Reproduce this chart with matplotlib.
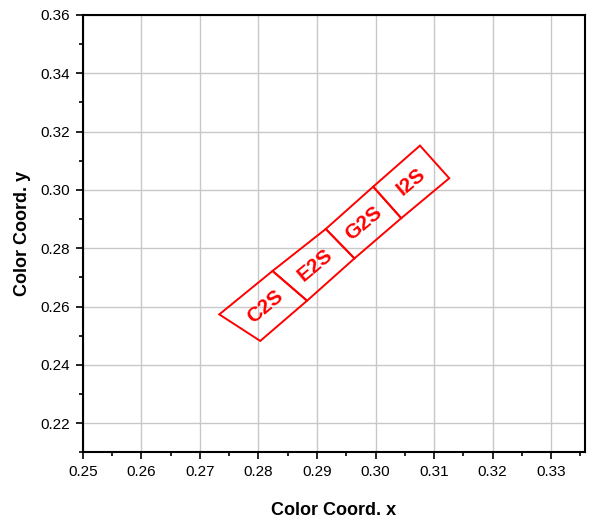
import numpy as np
import matplotlib.pyplot as plt
from matplotlib.patches import Polygon
from matplotlib.ticker import MultipleLocator

plt.rcParams['font.family'] = ['Liberation Sans', 'DejaVu Sans']

# sample names and the corners of their cells (upper-left edge / lower-right edge)
names = ['C2S', 'E2S', 'G2S', 'I2S']
top_x = [0.2733, 0.2824, 0.2915, 0.2996, 0.3076]
top_y = [0.2573, 0.2722, 0.2866, 0.3011, 0.3152]
bot_x = [0.2803, 0.2883, 0.2964, 0.3044, 0.3126]
bot_y = [0.2482, 0.2620, 0.2765, 0.2903, 0.3040]

xticks = [0.25, 0.26, 0.27, 0.28, 0.29, 0.30, 0.31, 0.32, 0.33]
yticks = [0.22, 0.24, 0.26, 0.28, 0.30, 0.32, 0.34, 0.36]

fig = plt.figure(figsize=(5.91, 5.22), dpi=100)
ax = fig.add_axes([0.1404, 0.1335, 0.8494, 0.8378])

for i, name in enumerate(names):
    pts = [(top_x[i], top_y[i]), (top_x[i+1], top_y[i+1]),
           (bot_x[i+1], bot_y[i+1]), (bot_x[i], bot_y[i])]
    ax.add_patch(Polygon(pts, closed=True, fill=False, edgecolor='#ff0000',
                         linewidth=1.4, zorder=3))
    cx = np.mean([p[0] for p in pts])
    cy = np.mean([p[1] for p in pts])
    ax.text(cx, cy, name, color='#ff0000', fontsize=15, fontweight='bold',
            rotation=40, ha='center', va='center', rotation_mode='anchor', zorder=4)

ax.set_xlim(0.25, 0.3358)
ax.set_ylim(0.21, 0.36)
ax.set_xticks(xticks)
ax.set_yticks(yticks)
ax.set_xticklabels(['%.2f' % v for v in xticks])
ax.set_yticklabels(['%.2f' % v for v in yticks])
ax.xaxis.set_minor_locator(MultipleLocator(0.005))
ax.yaxis.set_minor_locator(MultipleLocator(0.01))
ax.tick_params(which='major', direction='out', length=5, width=1.2, labelsize=11, pad=4)
ax.tick_params(which='minor', direction='out', length=3, width=1.2)
ax.grid(True, which='major', color='#c8c8c8', linewidth=1)
ax.set_axisbelow(True)
for s in ax.spines.values():
    s.set_linewidth(1.5)

ax.set_xlabel('Color Coord. x', fontsize=13, fontweight='bold', labelpad=17)
ax.set_ylabel('Color Coord. y', fontsize=13, fontweight='bold', labelpad=7)

fig.savefig('out.png', dpi=100)
